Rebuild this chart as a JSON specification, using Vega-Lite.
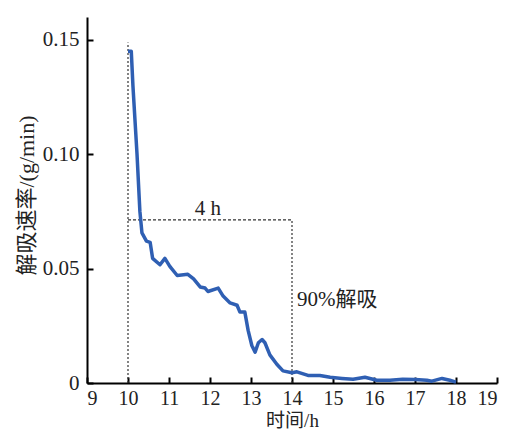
{
  "$schema": "https://vega.github.io/schema/vega-lite/v6.json",
  "width": 410,
  "height": 366,
  "autosize": "none",
  "padding": {"left": 87, "top": 17, "right": 10, "bottom": 47},
  "background": "white",
  "config": {
    "view": {"stroke": null},
    "axis": {
      "labelFont": "Liberation Serif",
      "labelFontSize": 21,
      "labelColor": "#222",
      "titleFont": "Liberation Serif, Noto Sans CJK SC",
      "titleFontSize": 21,
      "titleFontWeight": "normal",
      "titleColor": "#222",
      "domainColor": "black",
      "domainWidth": 2,
      "tickColor": "black",
      "tickWidth": 2,
      "tickSize": -6,
      "grid": false
    }
  },
  "datasets": {
    "curve": [
      {"t": 10.0, "r": 0.145},
      {"t": 10.08, "r": 0.145},
      {"t": 10.12, "r": 0.13},
      {"t": 10.22, "r": 0.1},
      {"t": 10.29, "r": 0.075},
      {"t": 10.34, "r": 0.0656},
      {"t": 10.45, "r": 0.062},
      {"t": 10.54, "r": 0.0615},
      {"t": 10.6, "r": 0.0545},
      {"t": 10.78, "r": 0.0517},
      {"t": 10.9, "r": 0.0545},
      {"t": 11.02, "r": 0.051},
      {"t": 11.2, "r": 0.047},
      {"t": 11.46, "r": 0.0475},
      {"t": 11.6, "r": 0.0455},
      {"t": 11.76, "r": 0.042},
      {"t": 11.88, "r": 0.0415},
      {"t": 11.95, "r": 0.04},
      {"t": 12.2, "r": 0.0415},
      {"t": 12.32, "r": 0.038},
      {"t": 12.49, "r": 0.035},
      {"t": 12.66, "r": 0.034},
      {"t": 12.73, "r": 0.031},
      {"t": 12.85, "r": 0.031},
      {"t": 12.93, "r": 0.023},
      {"t": 13.02, "r": 0.0164},
      {"t": 13.1, "r": 0.0135},
      {"t": 13.18, "r": 0.0176},
      {"t": 13.27, "r": 0.019},
      {"t": 13.34, "r": 0.0176},
      {"t": 13.46, "r": 0.0123},
      {"t": 13.63, "r": 0.0082},
      {"t": 13.78, "r": 0.0053},
      {"t": 14.0, "r": 0.0045},
      {"t": 14.12, "r": 0.0049},
      {"t": 14.39, "r": 0.0033},
      {"t": 14.68, "r": 0.0033},
      {"t": 14.93, "r": 0.0025},
      {"t": 15.22, "r": 0.002},
      {"t": 15.49, "r": 0.0016},
      {"t": 15.78, "r": 0.0025},
      {"t": 16.07, "r": 0.0012},
      {"t": 16.39, "r": 0.0012},
      {"t": 16.7, "r": 0.0016},
      {"t": 17.0, "r": 0.0015},
      {"t": 17.29, "r": 0.0012},
      {"t": 17.41, "r": 0.0008},
      {"t": 17.66, "r": 0.002},
      {"t": 17.85, "r": 0.0012},
      {"t": 18.0, "r": 0.0004}
    ],
    "vlines": [
      {"x": 10, "y0": 0, "y1": 0.1488, "kind": "a"},
      {"x": 14, "y0": 0, "y1": 0.0713, "kind": "b"}
    ],
    "hline": [{"x0": 10, "x1": 14, "y": 0.0713}],
    "labels": [
      {"x": 11.95, "y": 0.0713, "text": "4 h"}
    ],
    "labels2": [
      {"x": 14.12, "y": 0.0361, "text": "90%解吸"}
    ]
  },
  "layer": [
    {
      "data": {"name": "vlines"},
      "mark": {"type": "rule", "strokeDash": [2, 2], "strokeWidth": 1.2, "color": "#333"},
      "encoding": {
        "x": {"field": "x", "type": "quantitative", "scale": {"domain": [9, 19]},
          "axis": {"values": [9,10,11,12,13,14,15,16,17,18,19], "title": "时间/h", "titleY": 37, "titleBaseline": "middle", "titleFontSize": 19, "labelFontSize": 20, "labelPadding": 11}},
        "y": {"field": "y0", "type": "quantitative", "scale": {"domain": [0, 0.15]},
          "axis": {"values": [0, 0.05, 0.1, 0.15], "labelExpr": "datum.value == 0 ? '0' : format(datum.value, '.2f')", "title": "解吸速率/(g/min)", "titleX": -61, "titleY": 178, "titleAngle": -90, "titleBaseline": "middle", "titleFontSize": 22, "labelPadding": 14}},
        "y2": {"field": "y1"}
      }
    },
    {
      "data": {"name": "hline"},
      "mark": {"type": "rule", "strokeDash": [3, 2], "strokeWidth": 1.2, "color": "#333"},
      "encoding": {
        "x": {"field": "x0", "type": "quantitative"},
        "x2": {"field": "x1"},
        "y": {"field": "y", "type": "quantitative"}
      }
    },
    {
      "data": {"name": "curve"},
      "mark": {"type": "line", "color": "#2f5fb3", "strokeWidth": 3.5, "strokeJoin": "round"},
      "encoding": {
        "x": {"field": "t", "type": "quantitative"},
        "y": {"field": "r", "type": "quantitative"}
      }
    },
    {
      "data": {"name": "labels"},
      "mark": {"type": "text", "font": "Liberation Serif", "fontSize": 21, "align": "center", "baseline": "alphabetic", "dy": -5, "color": "#222"},
      "encoding": {
        "x": {"field": "x", "type": "quantitative"},
        "y": {"field": "y", "type": "quantitative"},
        "text": {"field": "text"}
      }
    },
    {
      "data": {"name": "labels2"},
      "mark": {"type": "text", "font": "Liberation Serif, Noto Sans CJK SC", "fontSize": 21, "align": "left", "baseline": "middle", "color": "#222"},
      "encoding": {
        "x": {"field": "x", "type": "quantitative"},
        "y": {"field": "y", "type": "quantitative"},
        "text": {"field": "text"}
      }
    }
  ]
}
